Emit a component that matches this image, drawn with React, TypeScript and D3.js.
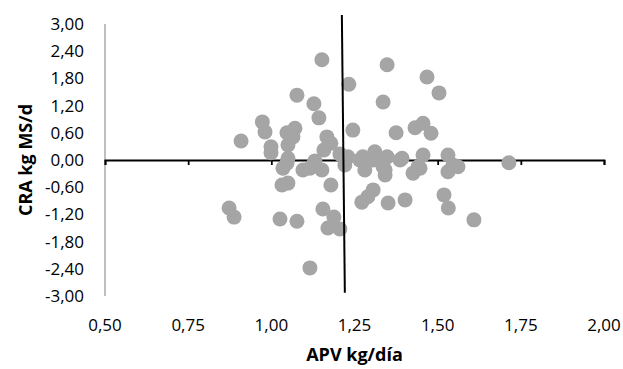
import { useRef, useEffect } from "react";
import * as d3 from "d3";

// APV (x) and CRA (y) for each animal
const apv = [
  0.909, 0.973, 0.981, 0.999, 0.999, 1.047, 1.071, 1.065, 1.05, 1.152,
  1.233, 1.348, 1.468, 1.504, 1.077, 1.128, 1.143, 1.336, 1.245, 1.375,
  1.432, 1.456, 1.48, 1.167, 1.179, 1.158, 1.206, 1.23, 1.275, 1.311,
  1.348, 1.393, 1.456, 1.531, 1.05, 1.131, 1.546, 1.561, 1.531, 1.447,
  1.714, 1.519, 1.532, 1.609, 1.047, 1.035, 1.095, 1.125, 1.152, 1.221,
  1.281, 1.266, 1.342, 1.342, 1.387, 1.426, 1.441, 1.032, 1.05, 1.179,
  1.272, 1.306, 1.351, 1.402, 1.026, 1.077, 1.155, 1.188, 1.17, 1.206,
  1.116, 0.873, 0.888, 1.306, 1.336, 1.116, 1.29,
];
const cra = [
  0.42, 0.84, 0.62, 0.29, 0.16, 0.6, 0.7, 0.51, 0.33, 2.21,
  1.67, 2.1, 1.83, 1.48, 1.43, 1.24, 0.93, 1.28, 0.66, 0.6,
  0.71, 0.81, 0.59, 0.51, 0.37, 0.22, 0.13, 0.07, 0.07, 0.18,
  0.07, 0.04, 0.11, 0.11, 0.04, -0.02, -0.11, -0.15, -0.26, -0.18,
  -0.06, -0.77, -1.06, -1.32, -0.07, -0.18, -0.22, -0.11, -0.22, -0.11,
  -0.22, 0.0, -0.22, -0.33, 0.0, -0.29, -0.15, -0.55, -0.51, -0.55,
  -0.93, -0.66, -0.95, -0.88, -1.3, -1.35, -1.08, -1.26, -1.5, -1.52,
  -2.38, -1.06, -1.26, 0.0, -0.15, -0.18, -0.81,
];

// black reference line through the cloud
const lineX = [1.212, 1.221];
const lineY = [3.2, -2.93];

const xTicks = [0.5, 0.75, 1.0, 1.25, 1.5, 1.75, 2.0];
const yTicks = [3, 2.4, 1.8, 1.2, 0.6, 0, -0.6, -1.2, -1.8, -2.4, -3];

const width = 623;
const height = 369;
const fmt = (v: number) => v.toFixed(2).replace(".", ",");
const font = "'Open Sans', sans-serif";

const App = () => {
  const svgRef = useRef<SVGSVGElement>(null);

  useEffect(() => {
    const svg = d3.select(svgRef.current);
    svg.selectAll("*").remove();

    const x = d3.scaleLinear().domain([0.5, 2]).range([105, 604]);
    const y = d3.scaleLinear().domain([-3, 3]).range([296, 24]);

    // y axis: plain gray line, labels only
    svg
      .append("line")
      .attr("x1", x(0.5))
      .attr("x2", x(0.5))
      .attr("y1", y(3))
      .attr("y2", y(-3))
      .attr("stroke", "#bfbfbf")
      .attr("stroke-width", 2);

    svg
      .append("g")
      .selectAll("text")
      .data(yTicks)
      .join("text")
      .attr("x", 84)
      .attr("y", (d) => y(d))
      .attr("dy", "0.35em")
      .attr("text-anchor", "end")
      .attr("font-family", font)
      .attr("font-size", 17)
      .attr("fill", "#000")
      .text(fmt);

    // x axis sits on y = 0, ticks pointing down
    const xAxis = d3
      .axisBottom(x)
      .tickValues(xTicks)
      .tickSize(5)
      .tickFormat(() => "");
    const xg = svg
      .append("g")
      .attr("transform", `translate(0,${y(0)})`)
      .call(xAxis);
    xg.select(".domain").attr("stroke", "#000").attr("stroke-width", 1.8);
    xg.selectAll(".tick line").attr("stroke", "#000").attr("stroke-width", 1.8);

    svg
      .append("g")
      .selectAll("text")
      .data(xTicks)
      .join("text")
      .attr("x", (d) => x(d))
      .attr("y", 325)
      .attr("dy", "0.35em")
      .attr("text-anchor", "middle")
      .attr("font-family", font)
      .attr("font-size", 17)
      .attr("fill", "#000")
      .text(fmt);

    // points
    const pts = apv.map((v, i) => ({ x: v, y: cra[i] }));
    svg
      .append("g")
      .selectAll("circle")
      .data(pts)
      .join("circle")
      .attr("cx", (d) => x(d.x))
      .attr("cy", (d) => y(d.y))
      .attr("r", 7.5)
      .attr("fill", "#a5a5a5");

    svg
      .append("line")
      .attr("x1", x(lineX[0]))
      .attr("y1", y(lineY[0]))
      .attr("x2", x(lineX[1]))
      .attr("y2", y(lineY[1]))
      .attr("stroke", "#000")
      .attr("stroke-width", 2);

    // axis titles
    svg
      .append("text")
      .attr("x", (x(0.5) + x(2)) / 2)
      .attr("y", 355)
      .attr("dy", "0.35em")
      .attr("text-anchor", "middle")
      .attr("font-family", font)
      .attr("font-size", 18)
      .attr("font-weight", "bold")
      .attr("fill", "#000")
      .text("APV kg/día");

    svg
      .append("text")
      .attr("transform", `translate(26,${y(0)}) rotate(-90)`)
      .attr("dy", "0.35em")
      .attr("text-anchor", "middle")
      .attr("font-family", font)
      .attr("font-size", 18)
      .attr("font-weight", "bold")
      .attr("fill", "#000")
      .text("CRA kg MS/d");
  }, []);

  return (
    <svg
      ref={svgRef}
      width={width}
      height={height}
      style={{ position: "absolute", left: 0, top: 0, background: "#fff" }}
    />
  );
};

export default App;
